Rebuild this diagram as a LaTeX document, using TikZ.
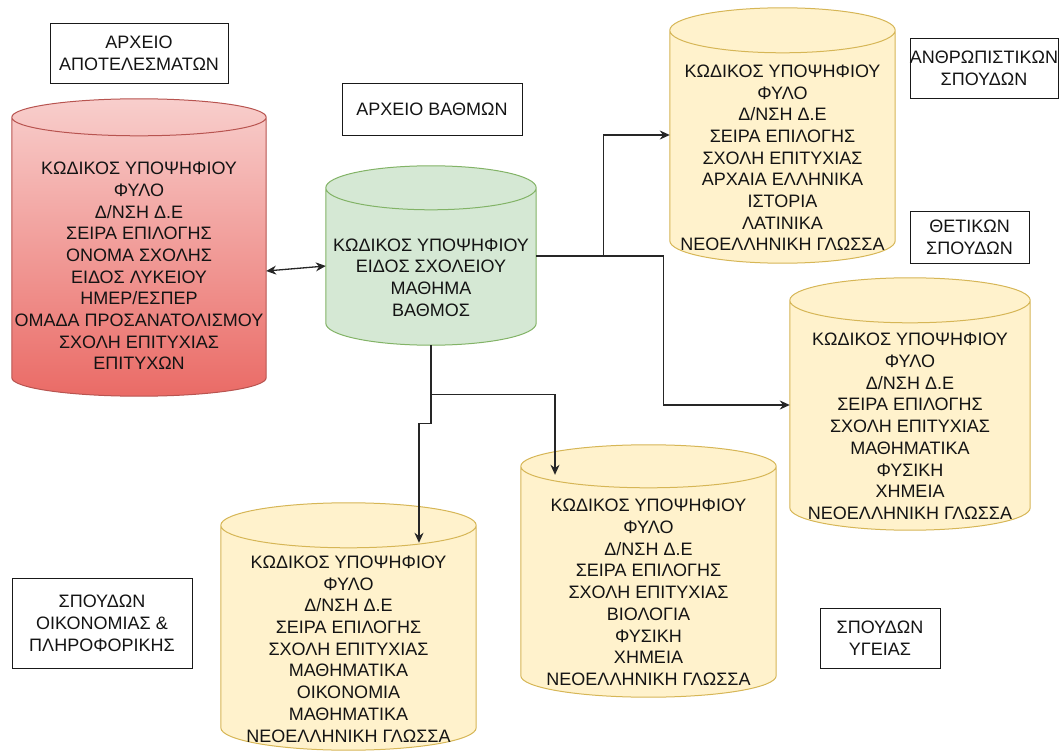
\documentclass[tikz,border=0pt]{standalone}
\usepackage{fontspec}
\setmainfont{Liberation Sans}
\usetikzlibrary{arrows.meta,backgrounds,calc}

\definecolor{redtop}{HTML}{F8CECC}
\definecolor{redbot}{HTML}{EA6B66}
\definecolor{redline}{HTML}{B85450}
\definecolor{grfill}{HTML}{D5E8D4}
\definecolor{grline}{HTML}{82B366}
\definecolor{yfill}{HTML}{FFF2CC}
\definecolor{yline}{HTML}{D6B656}

% cylinder round a body node: #1 node, #2 radius of the ends, #3 style
\newcommand\dbcyl[3]{%
  \path[#3] let \p1=(#1.north west), \p2=(#1.south east), \n1={(\x2-\x1)/2} in
    (\x1,\y1+#2pt) -- (\x1,\y2+#2pt) arc[start angle=180,end angle=360,x radius=\n1,y radius=#2pt]
    -- (\x2,\y1+#2pt) arc[start angle=0,end angle=180,x radius=\n1,y radius=#2pt] -- cycle
    (\x1,\y1+#2pt) arc[start angle=180,end angle=360,x radius=\n1,y radius=#2pt];
}

\begin{document}
\begin{tikzpicture}[
  x=1pt, y=1pt,
  font=\fontsize{18}{21.7}\selectfont,
  db/.style={rectangle, inner sep=0pt, align=center, text=black!92},
  lbl/.style={rectangle, draw=black!90, line width=0.9pt, inner sep=0pt, align=center,
              font=\fontsize{18}{22}\selectfont, text=black!92},
  redcyl/.style={draw=redline, line width=1pt, top color=redtop, bottom color=redbot},
  grcyl/.style={draw=grline, line width=1pt, fill=grfill},
  ycyl/.style={draw=yline, line width=1pt, fill=yfill},
  arr/.style={-{Stealth[length=10pt,width=9pt]}, draw=black!85, line width=1.3pt}
]
\useasboundingbox (0,0) rectangle (1061,-754);

\node[db, minimum width=254, minimum height=260] (res) at (139,-266)
  {ΚΩΔΙΚΟΣ ΥΠΟΨΗΦΙΟΥ\\ΦΥΛΟ\\Δ/ΝΣΗ Δ.Ε\\ΣΕΙΡΑ ΕΠΙΛΟΓΗΣ\\ΟΝΟΜΑ ΣΧΟΛΗΣ\\ΕΙΔΟΣ ΛΥΚΕΙΟΥ\\ΗΜΕΡ/ΕΣΠΕΡ\\ΟΜΑΔΑ ΠΡΟΣΑΝΑΤΟΛΙΣΜΟΥ\\ΣΧΟΛΗ ΕΠΙΤΥΧΙΑΣ\\ΕΠΙΤΥΧΩΝ};
\node[db, minimum width=210, minimum height=135] (gr) at (431,-277.5)
  {ΚΩΔΙΚΟΣ ΥΠΟΨΗΦΙΟΥ\\ΕΙΔΟΣ ΣΧΟΛΕΙΟΥ\\ΜΑΘΗΜΑ\\ΒΑΘΜΟΣ};
\node[db, minimum width=225, minimum height=210] (hum) at (782.5,-158)
  {ΚΩΔΙΚΟΣ ΥΠΟΨΗΦΙΟΥ\\ΦΥΛΟ\\Δ/ΝΣΗ Δ.Ε\\ΣΕΙΡΑ ΕΠΙΛΟΓΗΣ\\ΣΧΟΛΗ ΕΠΙΤΥΧΙΑΣ\\ΑΡΧΑΙΑ ΕΛΛΗΝΙΚΑ\\ΙΣΤΟΡΙΑ\\ΛΑΤΙΝΙΚΑ\\ΝΕΟΕΛΛΗΝΙΚΗ ΓΛΩΣΣΑ};
\node[db, minimum width=240, minimum height=207] (sci) at (910,-426.5)
  {ΚΩΔΙΚΟΣ ΥΠΟΨΗΦΙΟΥ\\ΦΥΛΟ\\Δ/ΝΣΗ Δ.Ε\\ΣΕΙΡΑ ΕΠΙΛΟΓΗΣ\\ΣΧΟΛΗ ΕΠΙΤΥΧΙΑΣ\\ΜΑΘΗΜΑΤΙΚΑ\\ΦΥΣΙΚΗ\\ΧΗΜΕΙΑ\\ΝΕΟΕΛΛΗΝΙΚΗ ΓΛΩΣΣΑ};
\node[db, minimum width=255, minimum height=209] (hea) at (648.5,-592.5)
  {ΚΩΔΙΚΟΣ ΥΠΟΨΗΦΙΟΥ\\ΦΥΛΟ\\Δ/ΝΣΗ Δ.Ε\\ΣΕΙΡΑ ΕΠΙΛΟΓΗΣ\\ΣΧΟΛΗ ΕΠΙΤΥΧΙΑΣ\\ΒΙΟΛΟΓΙΑ\\ΦΥΣΙΚΗ\\ΧΗΜΕΙΑ\\ΝΕΟΕΛΛΗΝΙΚΗ ΓΛΩΣΣΑ};
\node[db, minimum width=255, minimum height=202] (eco) at (348.5,-649)
  {ΚΩΔΙΚΟΣ ΥΠΟΨΗΦΙΟΥ\\ΦΥΛΟ\\Δ/ΝΣΗ Δ.Ε\\ΣΕΙΡΑ ΕΠΙΛΟΓΗΣ\\ΣΧΟΛΗ ΕΠΙΤΥΧΙΑΣ\\ΜΑΘΗΜΑΤΙΚΑ\\ΟΙΚΟΝΟΜΙΑ\\ΜΑΘΗΜΑΤΙΚΑ\\ΝΕΟΕΛΛΗΝΙΚΗ ΓΛΩΣΣΑ};

\node[lbl, minimum width=178, minimum height=60] (tres) at (139,-53) {ΑΡΧΕΙΟ\\ΑΠΟΤΕΛΕΣΜΑΤΩΝ};
\node[lbl, minimum width=180, minimum height=52] (tgr) at (432,-109) {ΑΡΧΕΙΟ ΒΑΘΜΩΝ};
\node[lbl, minimum width=148, minimum height=60] (thum) at (984,-68) {ΑΝΘΡΩΠΙΣΤΙΚΩΝ\\ΣΠΟΥΔΩΝ};
\node[lbl, minimum width=119, minimum height=52] (tsci) at (969.5,-237) {ΘΕΤΙΚΩΝ\\ΣΠΟΥΔΩΝ};
\node[lbl, minimum width=120, minimum height=60] (thea) at (880,-638) {ΣΠΟΥΔΩΝ\\ΥΓΕΙΑΣ};
\node[lbl, minimum width=180, minimum height=90] (teco) at (102,-623) {ΣΠΟΥΔΩΝ\\ΟΙΚΟΝΟΜΙΑΣ \&\\ΠΛΗΡΟΦΟΡΙΚΗΣ};

\begin{scope}[on background layer]
  \dbcyl{res}{18.5}{redcyl}
  \dbcyl{gr}{22}{grcyl}
  \dbcyl{hum}{22.5}{ycyl}
  \dbcyl{sci}{22.5}{ycyl}
  \dbcyl{hea}{21.5}{ycyl}
  \dbcyl{eco}{22.5}{ycyl}
\end{scope}

\draw[arr, {Stealth[length=10pt,width=9pt]}-{Stealth[length=10pt,width=9pt]}]
  ([yshift=-5pt]res.east) -- ([yshift=11.5pt]gr.west);
\draw[arr] ([yshift=21.5pt]gr.east) -- ++(67,0) |- ([yshift=23pt]hum.west);
\draw[arr] ([yshift=21.5pt]gr.east) -- ++(127,0) |- ([yshift=21.5pt]sci.west);
\draw[arr] (gr.south) -- ++(0,-49) -| ([xshift=-93.5pt,yshift=13pt]hea.north);
\draw[arr] (gr.south) -- ++(0,-78) -| ([xshift=70.5pt,yshift=5pt]eco.north);
\end{tikzpicture}
\end{document}
